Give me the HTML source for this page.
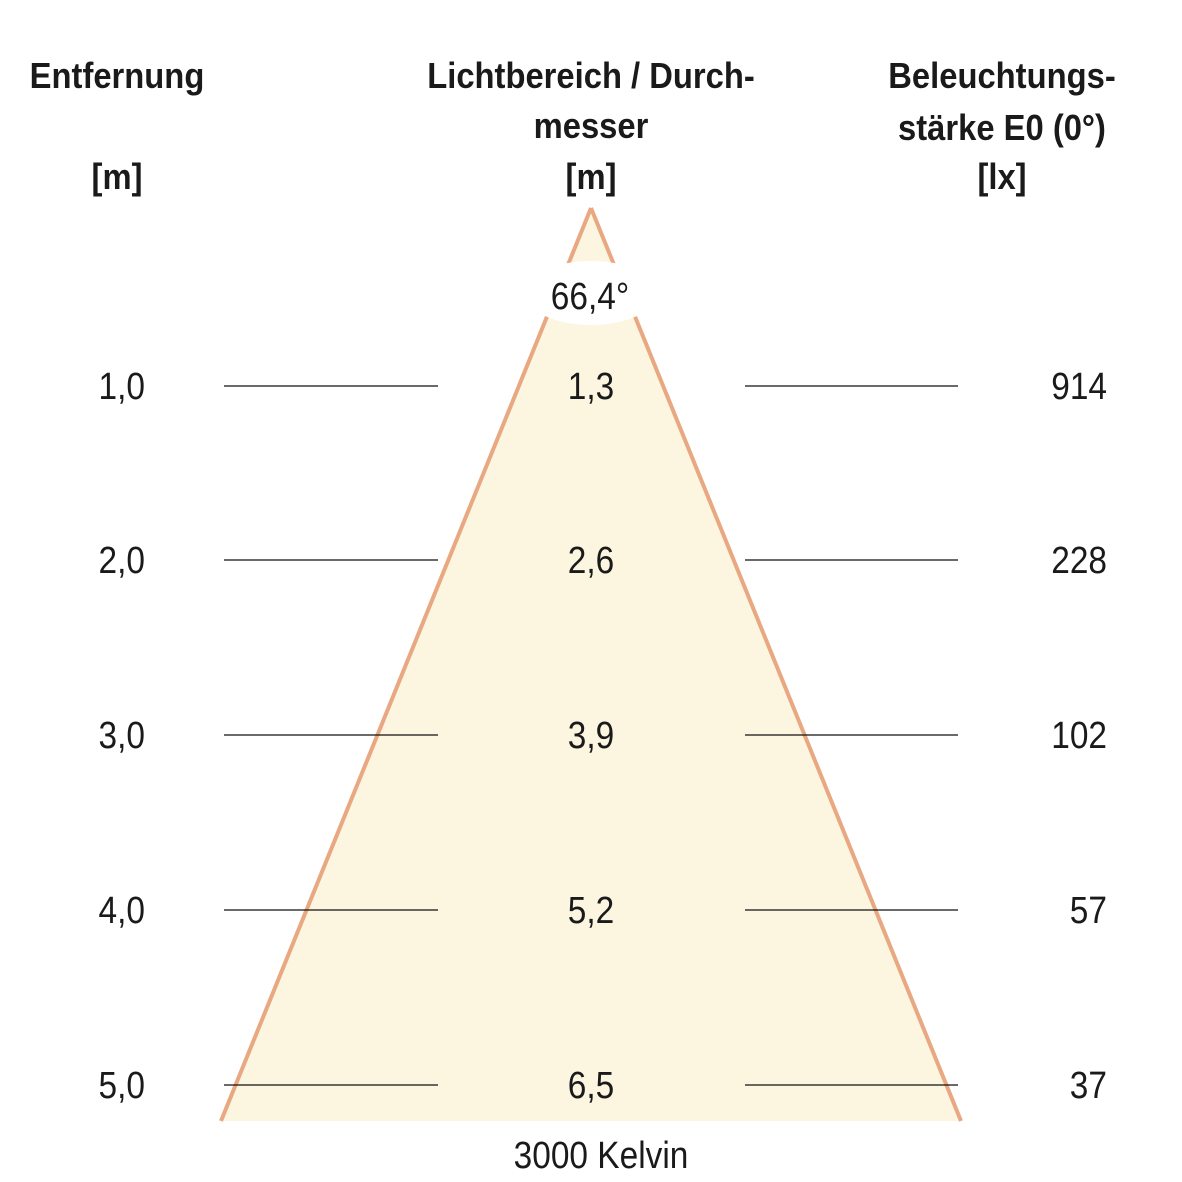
<!DOCTYPE html>
<html><head><meta charset="utf-8"><style>
html,body{margin:0;padding:0;background:#fff;}
svg{display:block;}
text{font-family:"Liberation Sans",sans-serif;fill:#1a1a1a;}
.h{font-weight:bold;font-size:36px;}
.n{font-size:38px;}
</style></head><body>
<svg width="1182" height="1182" viewBox="0 0 1182 1182" xmlns="http://www.w3.org/2000/svg">
<polygon points="591,208 221,1121 961,1121" fill="#fcf5e0"/>
<line x1="591" y1="208" x2="221" y2="1121" stroke="#e8a882" stroke-width="4"/>
<line x1="591" y1="208" x2="961" y2="1121" stroke="#e8a882" stroke-width="4"/>
<ellipse cx="591" cy="293" rx="66" ry="32" fill="#fff"/>
<g stroke="#111" stroke-width="1.2">
<line x1="224" y1="386" x2="438" y2="386"/><line x1="745" y1="386" x2="958" y2="386"/>
<line x1="224" y1="560" x2="438" y2="560"/><line x1="745" y1="560" x2="958" y2="560"/>
<line x1="224" y1="735" x2="438" y2="735"/><line x1="745" y1="735" x2="958" y2="735"/>
<line x1="224" y1="910" x2="438" y2="910"/><line x1="745" y1="910" x2="958" y2="910"/>
<line x1="224" y1="1085" x2="438" y2="1085"/><line x1="745" y1="1085" x2="958" y2="1085"/>
</g>
<g transform="translate(117,88) scale(0.91,1)"><text class="h" text-anchor="middle">Entfernung</text></g>
<g transform="translate(117,189) scale(0.91,1)"><text class="h" text-anchor="middle">[m]</text></g>
<g transform="translate(591,88) scale(0.91,1)"><text class="h" text-anchor="middle">Lichtbereich / Durch-</text></g>
<g transform="translate(591,138) scale(0.91,1)"><text class="h" text-anchor="middle">messer</text></g>
<g transform="translate(591,189) scale(0.91,1)"><text class="h" text-anchor="middle">[m]</text></g>
<g transform="translate(1002,88) scale(0.91,1)"><text class="h" text-anchor="middle">Beleuchtungs-</text></g>
<g transform="translate(1002,140) scale(0.91,1)"><text class="h" text-anchor="middle">stärke E0 (0°)</text></g>
<g transform="translate(1002,189) scale(0.91,1)"><text class="h" text-anchor="middle">[lx]</text></g>
<g transform="translate(590,309) scale(0.88,1)"><text class="n" text-anchor="middle">66,4°</text></g>
<g transform="translate(145,399) scale(0.88,1)"><text class="n" text-anchor="end">1,0</text></g>
<g transform="translate(145,573) scale(0.88,1)"><text class="n" text-anchor="end">2,0</text></g>
<g transform="translate(145,748) scale(0.88,1)"><text class="n" text-anchor="end">3,0</text></g>
<g transform="translate(145,923) scale(0.88,1)"><text class="n" text-anchor="end">4,0</text></g>
<g transform="translate(145,1098) scale(0.88,1)"><text class="n" text-anchor="end">5,0</text></g>
<g transform="translate(591,399) scale(0.88,1)"><text class="n" text-anchor="middle">1,3</text></g>
<g transform="translate(591,573) scale(0.88,1)"><text class="n" text-anchor="middle">2,6</text></g>
<g transform="translate(591,748) scale(0.88,1)"><text class="n" text-anchor="middle">3,9</text></g>
<g transform="translate(591,923) scale(0.88,1)"><text class="n" text-anchor="middle">5,2</text></g>
<g transform="translate(591,1098) scale(0.88,1)"><text class="n" text-anchor="middle">6,5</text></g>
<g transform="translate(1107,399) scale(0.88,1)"><text class="n" text-anchor="end">914</text></g>
<g transform="translate(1107,573) scale(0.88,1)"><text class="n" text-anchor="end">228</text></g>
<g transform="translate(1107,748) scale(0.88,1)"><text class="n" text-anchor="end">102</text></g>
<g transform="translate(1107,923) scale(0.88,1)"><text class="n" text-anchor="end">57</text></g>
<g transform="translate(1107,1098) scale(0.88,1)"><text class="n" text-anchor="end">37</text></g>
<g transform="translate(601,1168) scale(0.88,1)"><text class="n" text-anchor="middle">3000 Kelvin</text></g>
</svg>
</body></html>
